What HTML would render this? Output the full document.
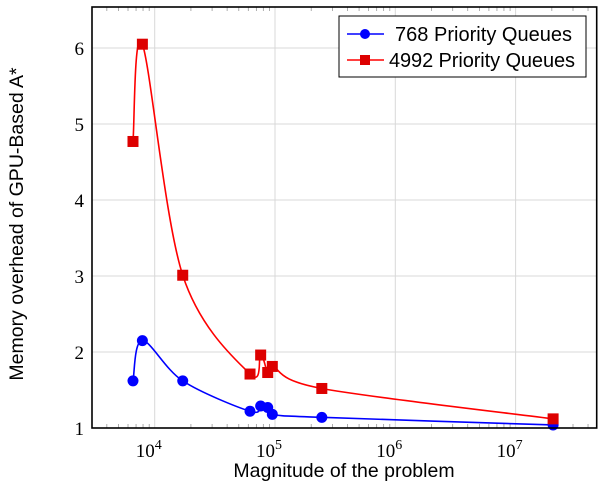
<!DOCTYPE html>
<html><head><meta charset="utf-8"><style>
html,body{margin:0;padding:0;background:#fff}
svg text{font-family:"Liberation Sans",sans-serif}
.tk{font-family:"Liberation Serif",serif;font-size:19px}
</style></head><body>
<svg id="chart" width="604" height="494" viewBox="0 0 604 494" xmlns="http://www.w3.org/2000/svg">
<g id="grid"></g>
<g id="ticks"></g>
<g id="series"></g>
<rect x="92" y="7" width="504.7" height="421" fill="none" stroke="#000" stroke-width="1.6"/>
<text x="344" y="477" text-anchor="middle" font-size="19.5">Magnitude of the problem</text>
<text transform="translate(23,224) rotate(-90)" text-anchor="middle" font-size="19.5">Memory overhead of GPU-Based A*</text>
<g>
<rect x="339" y="16" width="247" height="61" fill="#fff" stroke="#000" stroke-width="1"/>
<line x1="347" y1="34" x2="384" y2="34" stroke="#0000ff" stroke-width="1.5"/>
<circle cx="365" cy="34" r="5" fill="#0000ff"/>
<text x="395" y="41" font-size="20" textLength="177">768 Priority Queues</text>
<line x1="347" y1="60" x2="384" y2="60" stroke="#ff0000" stroke-width="1.5"/>
<rect x="360" y="55" width="10" height="10" fill="#dd0000"/>
<text x="389" y="67" font-size="20" textLength="186">4992 Priority Queues</text>
</g>
</svg>
<script>
const xValues=[6600,7900,17100,62000,76000,87000,95000,245000,20500000];
const blueValues=[1.62,2.15,1.62,1.22,1.29,1.27,1.18,1.14,1.04];
const redValues=[4.77,6.05,3.01,1.71,1.96,1.73,1.81,1.52,1.12];
const yTicks=[1,2,3,4,5,6];
const xDecades=[4,5,6,7];
const NS="http://www.w3.org/2000/svg";
const L=92,R=596.7,T=7,B=428;
function xs(v){return 154.7+120.3*(Math.log10(v)-4);}
function ys(v){return 428-76*(v-1);}
function mk(tag,attrs,parent){const e=document.createElementNS(NS,tag);for(const k in attrs)e.setAttribute(k,attrs[k]);parent.appendChild(e);return e;}
const grid=document.getElementById('grid'),ticks=document.getElementById('ticks'),ser=document.getElementById('series');
yTicks.forEach(v=>{const y=ys(v);
 const g=mk('line',{x1:L,x2:R,y1:y,y2:y,stroke:'#d8d8d8','stroke-width':1},grid);
 
 const t=mk('text',{x:84,y:y+7,'text-anchor':'end',class:'tk'},ticks);t.textContent=v;
 
});
xDecades.forEach(d=>{const x=xs(Math.pow(10,d));
 const g=mk('line',{x1:x,x2:x,y1:T,y2:B,stroke:'#d8d8d8','stroke-width':1},grid);
 
 const t=mk('text',{x:x-6,y:457,'text-anchor':'middle',class:'tk','font-size':'20px'},ticks);
 
 t.textContent='10';const s=mk('tspan',{dy:-8,'font-size':14},t);s.textContent=d;
});
for(let d=3;d<=7;d++)for(let m=2;m<=9;m++){const x=xs(m*Math.pow(10,d));if(x<=L||x>=R)continue;
 const a=mk('line',{x1:x,x2:x,y1:B,y2:B-4,stroke:'#999','stroke-width':0.8},ticks);
 
 const b=mk('line',{x1:x,x2:x,y1:T,y2:T+4,stroke:'#999','stroke-width':0.8},ticks);
 
}
function smooth(pts){let d='M'+pts[0][0]+','+pts[0][1];const t=0.5/3*2;
 for(let i=0;i<pts.length-1;i++){const p0=pts[i-1]||pts[i],p1=pts[i],p2=pts[i+1],p3=pts[i+2]||p2;
  const c1=[p1[0]+(p2[0]-p0[0])*t/2,p1[1]+(p2[1]-p0[1])*t/2],c2=[p2[0]-(p3[0]-p1[0])*t/2,p2[1]-(p3[1]-p1[1])*t/2];
  d+=' C'+c1+' '+c2+' '+p2;}
 return d;}
function drawSeries(vals,color,fill,name,square){
 const pts=xValues.map((x,i)=>[xs(x),ys(vals[i])]);
 const p=mk('path',{d:smooth(pts),fill:'none',stroke:color,'stroke-width':1.6},ser);
 
 pts.forEach(q=>{let m;
  if(square)m=mk('rect',{x:q[0]-5.5,y:q[1]-5.5,width:11,height:11,fill:fill},ser);
  else m=mk('circle',{cx:q[0],cy:q[1],r:5.5,fill:fill},ser);
  });
}
drawSeries(blueValues,'#0000ff','#0000ff','series-768',false);
drawSeries(redValues,'#ff0000','#dd0000','series-4992',true);
</script>
</body></html>
